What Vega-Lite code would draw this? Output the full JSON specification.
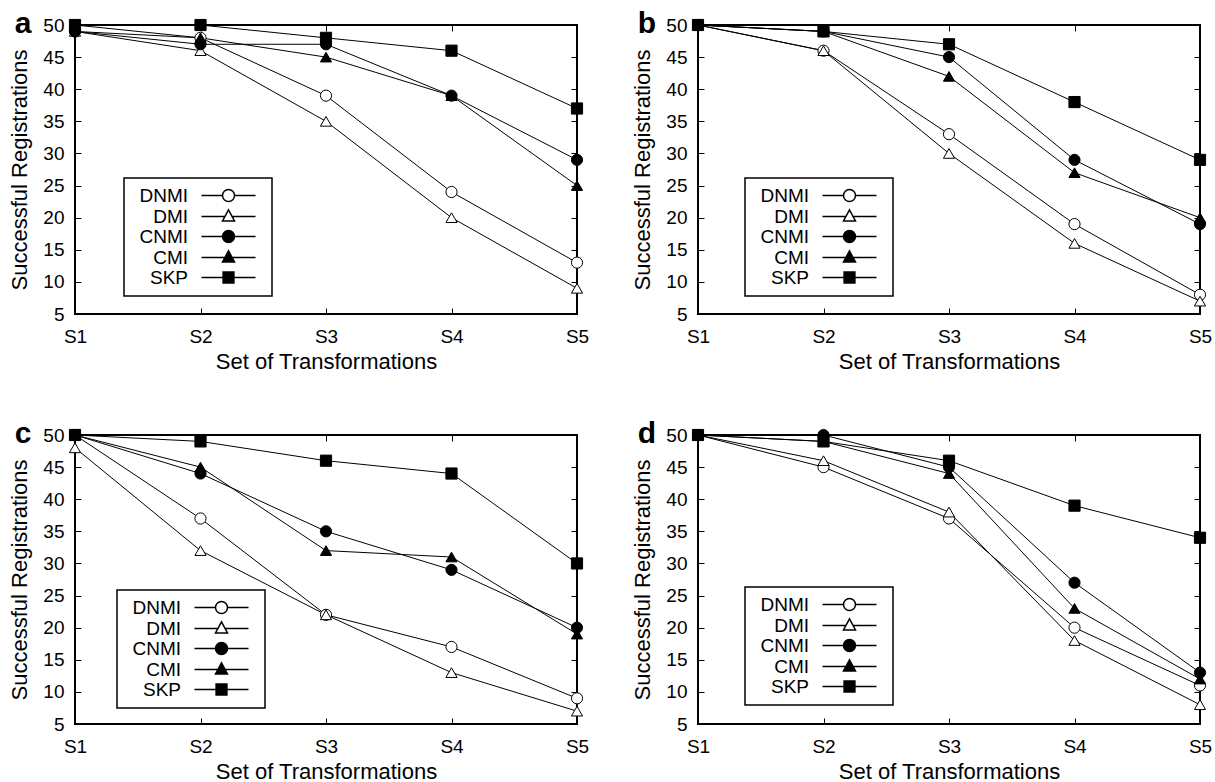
{
  "$schema": "https://vega.github.io/schema/vega-lite/v6.json",
  "background": "white",
  "padding": {"left": 7, "top": 8, "right": 0, "bottom": 0},
  "autosize": {"type": "pad"},
  "datasets": {
    "d": [
      {"p": "a", "m": "DNMI", "s": "S1", "v": 49}, {"p": "a", "m": "DNMI", "s": "S2", "v": 48}, {"p": "a", "m": "DNMI", "s": "S3", "v": 39}, {"p": "a", "m": "DNMI", "s": "S4", "v": 24}, {"p": "a", "m": "DNMI", "s": "S5", "v": 13},
      {"p": "a", "m": "DMI", "s": "S1", "v": 49}, {"p": "a", "m": "DMI", "s": "S2", "v": 46}, {"p": "a", "m": "DMI", "s": "S3", "v": 35}, {"p": "a", "m": "DMI", "s": "S4", "v": 20}, {"p": "a", "m": "DMI", "s": "S5", "v": 9},
      {"p": "a", "m": "CNMI", "s": "S1", "v": 49}, {"p": "a", "m": "CNMI", "s": "S2", "v": 47}, {"p": "a", "m": "CNMI", "s": "S3", "v": 47}, {"p": "a", "m": "CNMI", "s": "S4", "v": 39}, {"p": "a", "m": "CNMI", "s": "S5", "v": 29},
      {"p": "a", "m": "CMI", "s": "S1", "v": 50}, {"p": "a", "m": "CMI", "s": "S2", "v": 48}, {"p": "a", "m": "CMI", "s": "S3", "v": 45}, {"p": "a", "m": "CMI", "s": "S4", "v": 39}, {"p": "a", "m": "CMI", "s": "S5", "v": 25},
      {"p": "a", "m": "SKP", "s": "S1", "v": 50}, {"p": "a", "m": "SKP", "s": "S2", "v": 50}, {"p": "a", "m": "SKP", "s": "S3", "v": 48}, {"p": "a", "m": "SKP", "s": "S4", "v": 46}, {"p": "a", "m": "SKP", "s": "S5", "v": 37},
      {"p": "b", "m": "DNMI", "s": "S1", "v": 50}, {"p": "b", "m": "DNMI", "s": "S2", "v": 46}, {"p": "b", "m": "DNMI", "s": "S3", "v": 33}, {"p": "b", "m": "DNMI", "s": "S4", "v": 19}, {"p": "b", "m": "DNMI", "s": "S5", "v": 8},
      {"p": "b", "m": "DMI", "s": "S1", "v": 50}, {"p": "b", "m": "DMI", "s": "S2", "v": 46}, {"p": "b", "m": "DMI", "s": "S3", "v": 30}, {"p": "b", "m": "DMI", "s": "S4", "v": 16}, {"p": "b", "m": "DMI", "s": "S5", "v": 7},
      {"p": "b", "m": "CNMI", "s": "S1", "v": 50}, {"p": "b", "m": "CNMI", "s": "S2", "v": 49}, {"p": "b", "m": "CNMI", "s": "S3", "v": 45}, {"p": "b", "m": "CNMI", "s": "S4", "v": 29}, {"p": "b", "m": "CNMI", "s": "S5", "v": 19},
      {"p": "b", "m": "CMI", "s": "S1", "v": 50}, {"p": "b", "m": "CMI", "s": "S2", "v": 49}, {"p": "b", "m": "CMI", "s": "S3", "v": 42}, {"p": "b", "m": "CMI", "s": "S4", "v": 27}, {"p": "b", "m": "CMI", "s": "S5", "v": 20},
      {"p": "b", "m": "SKP", "s": "S1", "v": 50}, {"p": "b", "m": "SKP", "s": "S2", "v": 49}, {"p": "b", "m": "SKP", "s": "S3", "v": 47}, {"p": "b", "m": "SKP", "s": "S4", "v": 38}, {"p": "b", "m": "SKP", "s": "S5", "v": 29},
      {"p": "c", "m": "DNMI", "s": "S1", "v": 50}, {"p": "c", "m": "DNMI", "s": "S2", "v": 37}, {"p": "c", "m": "DNMI", "s": "S3", "v": 22}, {"p": "c", "m": "DNMI", "s": "S4", "v": 17}, {"p": "c", "m": "DNMI", "s": "S5", "v": 9},
      {"p": "c", "m": "DMI", "s": "S1", "v": 48}, {"p": "c", "m": "DMI", "s": "S2", "v": 32}, {"p": "c", "m": "DMI", "s": "S3", "v": 22}, {"p": "c", "m": "DMI", "s": "S4", "v": 13}, {"p": "c", "m": "DMI", "s": "S5", "v": 7},
      {"p": "c", "m": "CNMI", "s": "S1", "v": 50}, {"p": "c", "m": "CNMI", "s": "S2", "v": 44}, {"p": "c", "m": "CNMI", "s": "S3", "v": 35}, {"p": "c", "m": "CNMI", "s": "S4", "v": 29}, {"p": "c", "m": "CNMI", "s": "S5", "v": 20},
      {"p": "c", "m": "CMI", "s": "S1", "v": 50}, {"p": "c", "m": "CMI", "s": "S2", "v": 45}, {"p": "c", "m": "CMI", "s": "S3", "v": 32}, {"p": "c", "m": "CMI", "s": "S4", "v": 31}, {"p": "c", "m": "CMI", "s": "S5", "v": 19},
      {"p": "c", "m": "SKP", "s": "S1", "v": 50}, {"p": "c", "m": "SKP", "s": "S2", "v": 49}, {"p": "c", "m": "SKP", "s": "S3", "v": 46}, {"p": "c", "m": "SKP", "s": "S4", "v": 44}, {"p": "c", "m": "SKP", "s": "S5", "v": 30},
      {"p": "d", "m": "DNMI", "s": "S1", "v": 50}, {"p": "d", "m": "DNMI", "s": "S2", "v": 45}, {"p": "d", "m": "DNMI", "s": "S3", "v": 37}, {"p": "d", "m": "DNMI", "s": "S4", "v": 20}, {"p": "d", "m": "DNMI", "s": "S5", "v": 11},
      {"p": "d", "m": "DMI", "s": "S1", "v": 50}, {"p": "d", "m": "DMI", "s": "S2", "v": 46}, {"p": "d", "m": "DMI", "s": "S3", "v": 38}, {"p": "d", "m": "DMI", "s": "S4", "v": 18}, {"p": "d", "m": "DMI", "s": "S5", "v": 8},
      {"p": "d", "m": "CNMI", "s": "S1", "v": 50}, {"p": "d", "m": "CNMI", "s": "S2", "v": 50}, {"p": "d", "m": "CNMI", "s": "S3", "v": 45}, {"p": "d", "m": "CNMI", "s": "S4", "v": 27}, {"p": "d", "m": "CNMI", "s": "S5", "v": 13},
      {"p": "d", "m": "CMI", "s": "S1", "v": 50}, {"p": "d", "m": "CMI", "s": "S2", "v": 49}, {"p": "d", "m": "CMI", "s": "S3", "v": 44}, {"p": "d", "m": "CMI", "s": "S4", "v": 23}, {"p": "d", "m": "CMI", "s": "S5", "v": 12},
      {"p": "d", "m": "SKP", "s": "S1", "v": 50}, {"p": "d", "m": "SKP", "s": "S2", "v": 49}, {"p": "d", "m": "SKP", "s": "S3", "v": 46}, {"p": "d", "m": "SKP", "s": "S4", "v": 39}, {"p": "d", "m": "SKP", "s": "S5", "v": 34}
    ]
  },
  "columns": 2,
  "spacing": {"row": 45, "column": 40},
  "concat": [
    {
      "width": 502, "height": 289,
      "title": {"text": "a", "anchor": "start", "frame": "bounds", "fontSize": 30, "fontWeight": "bold", "font": "Liberation Sans", "color": "black", "offset": 0, "dx": 6, "dy": 23},
      "data": {"name": "d"},
      "transform": [{"filter": "datum.p === 'a'"}],
      "layer": [
        {"mark": {"type": "line", "color": "black", "strokeWidth": 1},
         "encoding": {
           "x": {"field": "s", "type": "ordinal", "scale": {"type": "point", "padding": 0}, "axis": {"title": "Set of Transformations", "labelAngle": 0, "tickSize": -6, "labelPadding": 19, "titlePadding": 5}},
           "y": {"field": "v", "type": "quantitative", "scale": {"domain": [5, 50], "nice": false, "zero": false}, "axis": {"title": "Successful Registrations", "values": [5, 10, 15, 20, 25, 30, 35, 40, 45, 50], "tickSize": -6, "labelPadding": 17, "titlePadding": 11}},
           "detail": {"field": "m"}
         }},
        {"mark": {"type": "point", "filled": true, "size": 125, "stroke": "black", "strokeWidth": 1, "opacity": 1},
         "encoding": {
           "x": {"field": "s", "type": "ordinal", "axis": {"orient": "top", "labels": false, "title": null, "tickSize": -6}},
           "y": {"field": "v", "type": "quantitative", "axis": {"orient": "right", "labels": false, "title": null, "tickSize": -6, "values": [5, 10, 15, 20, 25, 30, 35, 40, 45, 50]}},
           "shape": {"field": "m", "type": "nominal", "scale": {"domain": ["DNMI", "DMI", "CNMI", "CMI", "SKP"], "range": ["circle", "triangle-up", "circle", "triangle-up", "square"]}, "legend": null},
           "fill": {"field": "m", "type": "nominal", "scale": {"domain": ["DNMI", "DMI", "CNMI", "CMI", "SKP"], "range": ["white", "white", "black", "black", "black"]}, "legend": null}
         }},
        {"transform": [{"filter": "datum.v > 1000"}],
         "mark": {"type": "point", "filled": true, "size": 144, "stroke": "black", "strokeWidth": 1, "opacity": 1},
         "encoding": {
           "x": {"field": "s", "type": "ordinal", "axis": null},
           "y": {"field": "v", "type": "quantitative", "axis": null},
           "shape": {"field": "m", "type": "nominal", "scale": {"domain": ["DNMI", "DMI", "CNMI", "CMI", "SKP"], "range": ["M-4.5,0H-1M1,0H4.5M-1,0A1,1,0,1,1,1,0A1,1,0,1,1,-1,0ZM5.4,0", "M-4.5,0H-0.6M0.6,0H4.5M0,-1.1L1,0.75L-1,0.75ZM5.4,0", "M-4.5,0H-1M1,0H4.5M-1,0A1,1,0,1,1,1,0A1,1,0,1,1,-1,0ZM5.4,0", "M-4.5,0H-0.6M0.6,0H4.5M0,-1.1L1,0.75L-1,0.75ZM5.4,0", "M-4.5,0H-0.9M0.9,0H4.5M-0.9,-0.9H0.9V0.9H-0.9ZM5.4,0"]}, "legend": {"legendX": 49, "legendY": 153}},
           "fill": {"field": "m", "type": "nominal", "scale": {"domain": ["DNMI", "DMI", "CNMI", "CMI", "SKP"], "range": ["white", "white", "black", "black", "black"]}, "legend": {"legendX": 49, "legendY": 153}}
         }}
      ],
      "resolve": {"axis": {"x": "independent", "y": "independent"}, "scale": {"shape": "independent", "fill": "independent"}}
    },
    {
      "width": 502, "height": 289,
      "title": {"text": "b", "anchor": "start", "frame": "bounds", "fontSize": 30, "fontWeight": "bold", "font": "Liberation Sans", "color": "black", "offset": 0, "dx": 6, "dy": 23},
      "data": {"name": "d"},
      "transform": [{"filter": "datum.p === 'b'"}],
      "layer": [
        {"mark": {"type": "line", "color": "black", "strokeWidth": 1},
         "encoding": {
           "x": {"field": "s", "type": "ordinal", "scale": {"type": "point", "padding": 0}, "axis": {"title": "Set of Transformations", "labelAngle": 0, "tickSize": -6, "labelPadding": 19, "titlePadding": 5}},
           "y": {"field": "v", "type": "quantitative", "scale": {"domain": [5, 50], "nice": false, "zero": false}, "axis": {"title": "Successful Registrations", "values": [5, 10, 15, 20, 25, 30, 35, 40, 45, 50], "tickSize": -6, "labelPadding": 17, "titlePadding": 11}},
           "detail": {"field": "m"}
         }},
        {"mark": {"type": "point", "filled": true, "size": 125, "stroke": "black", "strokeWidth": 1, "opacity": 1},
         "encoding": {
           "x": {"field": "s", "type": "ordinal", "axis": {"orient": "top", "labels": false, "title": null, "tickSize": -6}},
           "y": {"field": "v", "type": "quantitative", "axis": {"orient": "right", "labels": false, "title": null, "tickSize": -6, "values": [5, 10, 15, 20, 25, 30, 35, 40, 45, 50]}},
           "shape": {"field": "m", "type": "nominal", "scale": {"domain": ["DNMI", "DMI", "CNMI", "CMI", "SKP"], "range": ["circle", "triangle-up", "circle", "triangle-up", "square"]}, "legend": null},
           "fill": {"field": "m", "type": "nominal", "scale": {"domain": ["DNMI", "DMI", "CNMI", "CMI", "SKP"], "range": ["white", "white", "black", "black", "black"]}, "legend": null}
         }},
        {"transform": [{"filter": "datum.v > 1000"}],
         "mark": {"type": "point", "filled": true, "size": 144, "stroke": "black", "strokeWidth": 1, "opacity": 1},
         "encoding": {
           "x": {"field": "s", "type": "ordinal", "axis": null},
           "y": {"field": "v", "type": "quantitative", "axis": null},
           "shape": {"field": "m", "type": "nominal", "scale": {"domain": ["DNMI", "DMI", "CNMI", "CMI", "SKP"], "range": ["M-4.5,0H-1M1,0H4.5M-1,0A1,1,0,1,1,1,0A1,1,0,1,1,-1,0ZM5.4,0", "M-4.5,0H-0.6M0.6,0H4.5M0,-1.1L1,0.75L-1,0.75ZM5.4,0", "M-4.5,0H-1M1,0H4.5M-1,0A1,1,0,1,1,1,0A1,1,0,1,1,-1,0ZM5.4,0", "M-4.5,0H-0.6M0.6,0H4.5M0,-1.1L1,0.75L-1,0.75ZM5.4,0", "M-4.5,0H-0.9M0.9,0H4.5M-0.9,-0.9H0.9V0.9H-0.9ZM5.4,0"]}, "legend": {"legendX": 47, "legendY": 153}},
           "fill": {"field": "m", "type": "nominal", "scale": {"domain": ["DNMI", "DMI", "CNMI", "CMI", "SKP"], "range": ["white", "white", "black", "black", "black"]}, "legend": {"legendX": 47, "legendY": 153}}
         }}
      ],
      "resolve": {"axis": {"x": "independent", "y": "independent"}, "scale": {"shape": "independent", "fill": "independent"}}
    },
    {
      "width": 502, "height": 289,
      "title": {"text": "c", "anchor": "start", "frame": "bounds", "fontSize": 30, "fontWeight": "bold", "font": "Liberation Sans", "color": "black", "offset": 0, "dx": 6, "dy": 23},
      "data": {"name": "d"},
      "transform": [{"filter": "datum.p === 'c'"}],
      "layer": [
        {"mark": {"type": "line", "color": "black", "strokeWidth": 1},
         "encoding": {
           "x": {"field": "s", "type": "ordinal", "scale": {"type": "point", "padding": 0}, "axis": {"title": "Set of Transformations", "labelAngle": 0, "tickSize": -6, "labelPadding": 19, "titlePadding": 5}},
           "y": {"field": "v", "type": "quantitative", "scale": {"domain": [5, 50], "nice": false, "zero": false}, "axis": {"title": "Successful Registrations", "values": [5, 10, 15, 20, 25, 30, 35, 40, 45, 50], "tickSize": -6, "labelPadding": 17, "titlePadding": 11}},
           "detail": {"field": "m"}
         }},
        {"mark": {"type": "point", "filled": true, "size": 125, "stroke": "black", "strokeWidth": 1, "opacity": 1},
         "encoding": {
           "x": {"field": "s", "type": "ordinal", "axis": {"orient": "top", "labels": false, "title": null, "tickSize": -6}},
           "y": {"field": "v", "type": "quantitative", "axis": {"orient": "right", "labels": false, "title": null, "tickSize": -6, "values": [5, 10, 15, 20, 25, 30, 35, 40, 45, 50]}},
           "shape": {"field": "m", "type": "nominal", "scale": {"domain": ["DNMI", "DMI", "CNMI", "CMI", "SKP"], "range": ["circle", "triangle-up", "circle", "triangle-up", "square"]}, "legend": null},
           "fill": {"field": "m", "type": "nominal", "scale": {"domain": ["DNMI", "DMI", "CNMI", "CMI", "SKP"], "range": ["white", "white", "black", "black", "black"]}, "legend": null}
         }},
        {"transform": [{"filter": "datum.v > 1000"}],
         "mark": {"type": "point", "filled": true, "size": 144, "stroke": "black", "strokeWidth": 1, "opacity": 1},
         "encoding": {
           "x": {"field": "s", "type": "ordinal", "axis": null},
           "y": {"field": "v", "type": "quantitative", "axis": null},
           "shape": {"field": "m", "type": "nominal", "scale": {"domain": ["DNMI", "DMI", "CNMI", "CMI", "SKP"], "range": ["M-4.5,0H-1M1,0H4.5M-1,0A1,1,0,1,1,1,0A1,1,0,1,1,-1,0ZM5.4,0", "M-4.5,0H-0.6M0.6,0H4.5M0,-1.1L1,0.75L-1,0.75ZM5.4,0", "M-4.5,0H-1M1,0H4.5M-1,0A1,1,0,1,1,1,0A1,1,0,1,1,-1,0ZM5.4,0", "M-4.5,0H-0.6M0.6,0H4.5M0,-1.1L1,0.75L-1,0.75ZM5.4,0", "M-4.5,0H-0.9M0.9,0H4.5M-0.9,-0.9H0.9V0.9H-0.9ZM5.4,0"]}, "legend": {"legendX": 42, "legendY": 155}},
           "fill": {"field": "m", "type": "nominal", "scale": {"domain": ["DNMI", "DMI", "CNMI", "CMI", "SKP"], "range": ["white", "white", "black", "black", "black"]}, "legend": {"legendX": 42, "legendY": 155}}
         }}
      ],
      "resolve": {"axis": {"x": "independent", "y": "independent"}, "scale": {"shape": "independent", "fill": "independent"}}
    },
    {
      "width": 502, "height": 289,
      "title": {"text": "d", "anchor": "start", "frame": "bounds", "fontSize": 30, "fontWeight": "bold", "font": "Liberation Sans", "color": "black", "offset": 0, "dx": 6, "dy": 23},
      "data": {"name": "d"},
      "transform": [{"filter": "datum.p === 'd'"}],
      "layer": [
        {"mark": {"type": "line", "color": "black", "strokeWidth": 1},
         "encoding": {
           "x": {"field": "s", "type": "ordinal", "scale": {"type": "point", "padding": 0}, "axis": {"title": "Set of Transformations", "labelAngle": 0, "tickSize": -6, "labelPadding": 19, "titlePadding": 5}},
           "y": {"field": "v", "type": "quantitative", "scale": {"domain": [5, 50], "nice": false, "zero": false}, "axis": {"title": "Successful Registrations", "values": [5, 10, 15, 20, 25, 30, 35, 40, 45, 50], "tickSize": -6, "labelPadding": 17, "titlePadding": 11}},
           "detail": {"field": "m"}
         }},
        {"mark": {"type": "point", "filled": true, "size": 125, "stroke": "black", "strokeWidth": 1, "opacity": 1},
         "encoding": {
           "x": {"field": "s", "type": "ordinal", "axis": {"orient": "top", "labels": false, "title": null, "tickSize": -6}},
           "y": {"field": "v", "type": "quantitative", "axis": {"orient": "right", "labels": false, "title": null, "tickSize": -6, "values": [5, 10, 15, 20, 25, 30, 35, 40, 45, 50]}},
           "shape": {"field": "m", "type": "nominal", "scale": {"domain": ["DNMI", "DMI", "CNMI", "CMI", "SKP"], "range": ["circle", "triangle-up", "circle", "triangle-up", "square"]}, "legend": null},
           "fill": {"field": "m", "type": "nominal", "scale": {"domain": ["DNMI", "DMI", "CNMI", "CMI", "SKP"], "range": ["white", "white", "black", "black", "black"]}, "legend": null}
         }},
        {"transform": [{"filter": "datum.v > 1000"}],
         "mark": {"type": "point", "filled": true, "size": 144, "stroke": "black", "strokeWidth": 1, "opacity": 1},
         "encoding": {
           "x": {"field": "s", "type": "ordinal", "axis": null},
           "y": {"field": "v", "type": "quantitative", "axis": null},
           "shape": {"field": "m", "type": "nominal", "scale": {"domain": ["DNMI", "DMI", "CNMI", "CMI", "SKP"], "range": ["M-4.5,0H-1M1,0H4.5M-1,0A1,1,0,1,1,1,0A1,1,0,1,1,-1,0ZM5.4,0", "M-4.5,0H-0.6M0.6,0H4.5M0,-1.1L1,0.75L-1,0.75ZM5.4,0", "M-4.5,0H-1M1,0H4.5M-1,0A1,1,0,1,1,1,0A1,1,0,1,1,-1,0ZM5.4,0", "M-4.5,0H-0.6M0.6,0H4.5M0,-1.1L1,0.75L-1,0.75ZM5.4,0", "M-4.5,0H-0.9M0.9,0H4.5M-0.9,-0.9H0.9V0.9H-0.9ZM5.4,0"]}, "legend": {"legendX": 47, "legendY": 152}},
           "fill": {"field": "m", "type": "nominal", "scale": {"domain": ["DNMI", "DMI", "CNMI", "CMI", "SKP"], "range": ["white", "white", "black", "black", "black"]}, "legend": {"legendX": 47, "legendY": 152}}
         }}
      ],
      "resolve": {"axis": {"x": "independent", "y": "independent"}, "scale": {"shape": "independent", "fill": "independent"}}
    }
  ],
  "resolve": {"scale": {"shape": "independent", "fill": "independent"}, "legend": {"shape": "independent", "fill": "independent"}},
  "config": {
    "font": "Liberation Sans",
    "view": {"stroke": "black", "strokeWidth": 2},
    "axis": {"labelFont": "Liberation Sans", "labelFontSize": 19, "labelColor": "black", "titleFont": "Liberation Sans", "titleFontSize": 22, "titleFontWeight": "normal", "titleColor": "black", "tickColor": "black", "tickWidth": 1, "domain": false, "grid": false},
    "legend": {"orient": "none", "title": null, "padding": 8, "strokeColor": "black", "strokeWidth": 1.5, "fillColor": "white", "rowPadding": 0, "labelFontSize": 19, "labelFont": "Liberation Sans", "labelColor": "black", "labelLimit": 200, "labelAlign": "right", "labelOffset": -50, "symbolOffset": 87, "symbolSize": 144, "symbolOpacity": 1}
  }
}
